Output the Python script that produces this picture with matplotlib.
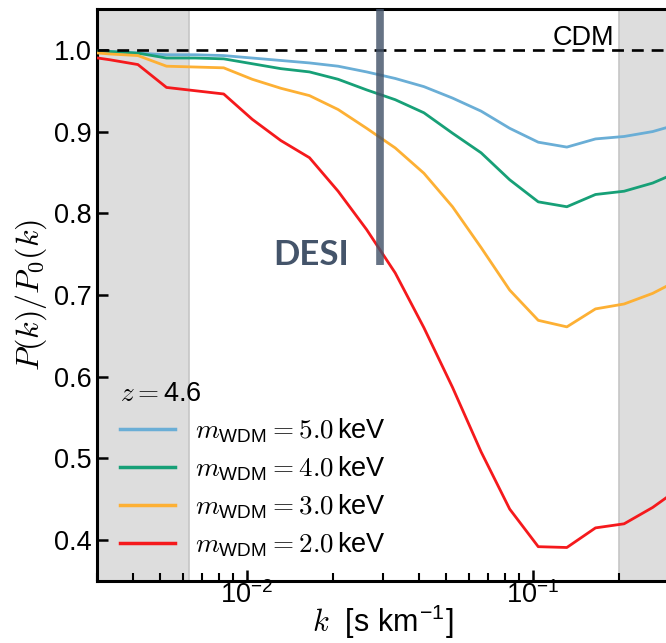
import matplotlib
matplotlib.use('Agg')
import matplotlib.pyplot as plt

# Fuentes: texto sans (tipo Helvetica) y matemáticas estilo Computer Modern
plt.rcParams['font.family'] = ['Liberation Sans', 'DejaVu Sans']
plt.rcParams['mathtext.fontset'] = 'cm'

# Valores de k [s/km] en los nodos de las curvas
k = [0.00263, 0.00331, 0.00417, 0.00525, 0.00661, 0.00832, 0.01047, 0.01318,
     0.0166, 0.0209, 0.0263, 0.0331, 0.0417, 0.0525, 0.0661, 0.0832,
     0.1047, 0.1318, 0.166, 0.209, 0.263, 0.331]

# Cociente P(k)/P0(k) para cada masa WDM
ratio5 = [0.999, 0.998, 0.996, 0.994, 0.994, 0.993, 0.990, 0.987,
          0.984, 0.980, 0.973, 0.965, 0.955, 0.941, 0.925, 0.904,
          0.887, 0.881, 0.891, 0.894, 0.900, 0.910]
ratio4 = [0.999, 0.998, 0.996, 0.990, 0.990, 0.989, 0.983, 0.977,
          0.973, 0.964, 0.951, 0.939, 0.923, 0.898, 0.874, 0.841,
          0.814, 0.808, 0.823, 0.827, 0.837, 0.852]
ratio3 = [0.998, 0.995, 0.993, 0.980, 0.979, 0.978, 0.964, 0.953,
          0.944, 0.927, 0.904, 0.880, 0.849, 0.808, 0.758, 0.706,
          0.669, 0.661, 0.683, 0.689, 0.702, 0.720]
ratio2 = [0.993, 0.988, 0.982, 0.954, 0.950, 0.946, 0.915, 0.889,
          0.868, 0.827, 0.780, 0.727, 0.660, 0.587, 0.508, 0.438,
          0.392, 0.391, 0.415, 0.420, 0.440, 0.465]

masas = ['5.0', '4.0', '3.0', '2.0']
colores = ['#6aaed6', '#17a077', '#fdb034', '#f5191c']

# Rangos excluidos (sombreados) y posición de DESI
kMinValido = 0.0063
kMaxValido = 0.201
kDesi = 0.0292
yDesi = 0.737

fig = plt.figure(figsize=(6.66, 6.43), dpi=100)
ax = fig.add_axes([97 / 666, 62 / 643, 572 / 666, 572 / 643])

# Zonas grises
ax.axvspan(0.001, kMinValido, facecolor='#dddddd', edgecolor='#c6c6c6', linewidth=1.2, zorder=0)
ax.axvspan(kMaxValido, 1.0, facecolor='#dddddd', edgecolor='#c6c6c6', linewidth=1.2, zorder=0)

# Curvas
for serie, m, c in zip([ratio5, ratio4, ratio3, ratio2], masas, colores):
    ax.plot(k, serie, color=c, linewidth=2.0,
            label=r'$m_{\mathregular{WDM}} = ' + m + r'\,$keV', zorder=3)

# Línea CDM
ax.axhline(1.0, color='black', linewidth=1.9, linestyle=(0, (4.5, 3)), zorder=4)
ax.text(0.1936, 1.006, 'CDM', fontsize=19.5, ha='right', va='baseline')

# Línea vertical y texto de DESI
ax.plot([kDesi, kDesi], [yDesi, 1.05], color='#44546a', alpha=0.82,
        linewidth=5.5, solid_capstyle='butt', zorder=5)
ax.text(0.0168, yDesi, 'DESI', fontsize=25, fontweight='bold', family='Lato',
        color='#44546a', ha='center', va='baseline')

# Ejes
ax.set_xscale('log')
ax.set_xlim(0.003, 0.3)
ax.set_ylim(0.35, 1.05)
ax.set_xticks([0.01, 0.1])
ax.set_xticklabels([r'$\mathregular{10^{-2}}$', r'$\mathregular{10^{-1}}$'])
ax.set_yticks([0.4, 0.5, 0.6, 0.7, 0.8, 0.9, 1.0])
ax.set_yticklabels(['0.4', '0.5', '0.6', '0.7', '0.8', '0.9', '1.0'])
ax.tick_params(axis='both', which='major', direction='in', length=8, width=1.8,
               labelsize=19.5, top=False, right=False)
ax.tick_params(axis='x', which='major', pad=0)
ax.tick_params(axis='y', which='major', pad=4)
ax.tick_params(axis='x', which='minor', direction='in', length=6, width=1.5, top=False)
for lado in ax.spines.values():
    lado.set_linewidth(2.2)

ax.set_xlabel(r'$k$  [s km$^{\mathregular{-1}}$]', fontsize=22, labelpad=-4)
ax.set_ylabel(r'$P(k)/P_0(k)$', fontsize=23, labelpad=3)

# Leyenda
leg = ax.legend(loc='upper left', bbox_to_anchor=(0.04, 0.35), frameon=False,
                fontsize=19.5, title=r'$z = $4.6', title_fontsize=19.5,
                handlelength=2.05, handletextpad=0.72, labelspacing=0.35,
                borderpad=0, borderaxespad=0)
leg._legend_box.align = 'left'
for linea in leg.get_lines():
    linea.set_linewidth(2.5)

plt.savefig('out.png', dpi=100)
